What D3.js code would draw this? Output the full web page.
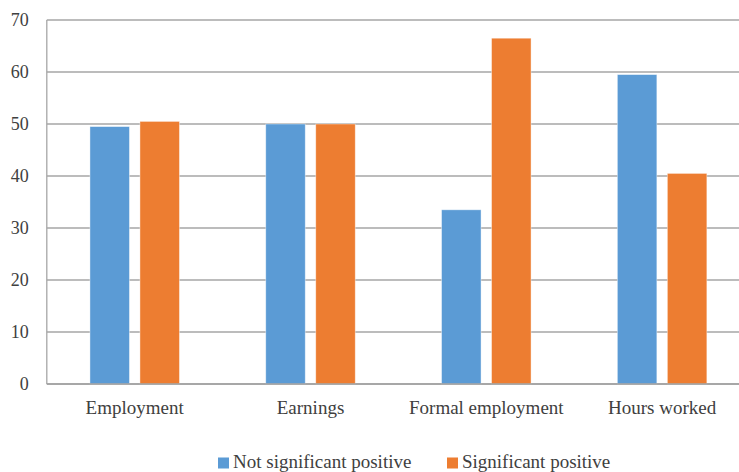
<!DOCTYPE html>
<html><head><meta charset="utf-8">
<script src="https://cdn.jsdelivr.net/npm/d3@7"></script>
</head><body style="margin:0">
<svg id="c" width="739" height="472" font-family="Liberation Serif, Times New Roman, serif"></svg>
<script>
const categories = ["Employment", "Earnings", "Formal employment", "Hours worked"];
const seriesNames = ["Not significant positive", "Significant positive"];
const notSignificant = [49.5, 50, 33.5, 59.5];
const significant = [50.5, 50, 66.5, 40.5];
const yTicks = [0, 10, 20, 30, 40, 50, 60, 70];
const colors = ["#5B9BD5", "#ED7D31"];

const svg = d3.select("#c");
const x0 = 46.8, x1 = 750, yTop = 20, yBot = 384;
const x = d3.scaleBand().domain(categories).range([x0, x1]).paddingInner(0).paddingOuter(0);
const y = d3.scaleLinear().domain([0, 70]).range([yBot, yTop]);
const xs = d3.scaleBand().domain([0, 1]).range([0, x.bandwidth()]).paddingInner(0.21).paddingOuter(0.863);

svg.append("g").selectAll("line").data(yTicks).join("line")
  .attr("x1", x0).attr("x2", x1)
  .attr("y1", d => y(d)).attr("y2", d => y(d))
  .attr("stroke", "#A6A6A6").attr("stroke-width", 1.3);
svg.append("line").attr("x1", x0).attr("x2", x0).attr("y1", yTop).attr("y2", yBot)
  .attr("stroke", "#A6A6A6").attr("stroke-width", 1.3);

const data = categories.map((c, i) => ({c, v: [notSignificant[i], significant[i]]}));
const g = svg.append("g").selectAll("g").data(data).join("g")
  .attr("transform", d => `translate(${x(d.c)},0)`);
g.selectAll("rect").data(d => d.v.map((v, k) => ({v, k}))).join("rect")
  .attr("x", d => xs(d.k)).attr("width", xs.bandwidth())
  .attr("y", d => y(d.v)).attr("height", d => y(0) - y(d.v))
  .attr("fill", d => colors[d.k]).attr("stroke", "#fff").attr("stroke-opacity", 0.5).attr("stroke-width", 0.8);

svg.append("line").attr("x1", x0).attr("x2", x1).attr("y1", yBot).attr("y2", yBot)
  .attr("stroke", "#A0A0A0").attr("stroke-width", 1.6);

const ya = svg.append("g").attr("transform", `translate(${x0},0)`)
  .call(d3.axisLeft(y).tickValues(yTicks).tickSize(0).tickPadding(18));
ya.attr("font-family", null).attr("font-size", 18);
ya.select(".domain").remove();
ya.selectAll("text").attr("fill", "#404040");

const xa = svg.append("g").attr("transform", `translate(0,${yBot})`)
  .call(d3.axisBottom(x).tickSize(0).tickPadding(17));
xa.attr("font-family", null).attr("font-size", 19);
xa.select(".domain").remove();
xa.selectAll("text").attr("fill", "#404040");

const legX = [218, 447];
const leg = svg.append("g").attr("font-size", 19)
  .selectAll("g").data(seriesNames).join("g")
  .attr("transform", (d, i) => `translate(${legX[i]},0)`);
leg.append("rect").attr("x", 0).attr("y", 457.5).attr("width", 11).attr("height", 11)
  .attr("fill", (d, i) => colors[i]);
leg.append("text").attr("x", 15).attr("y", 468.3).text(d => d).attr("fill", "#404040");
</script>
</body></html>
